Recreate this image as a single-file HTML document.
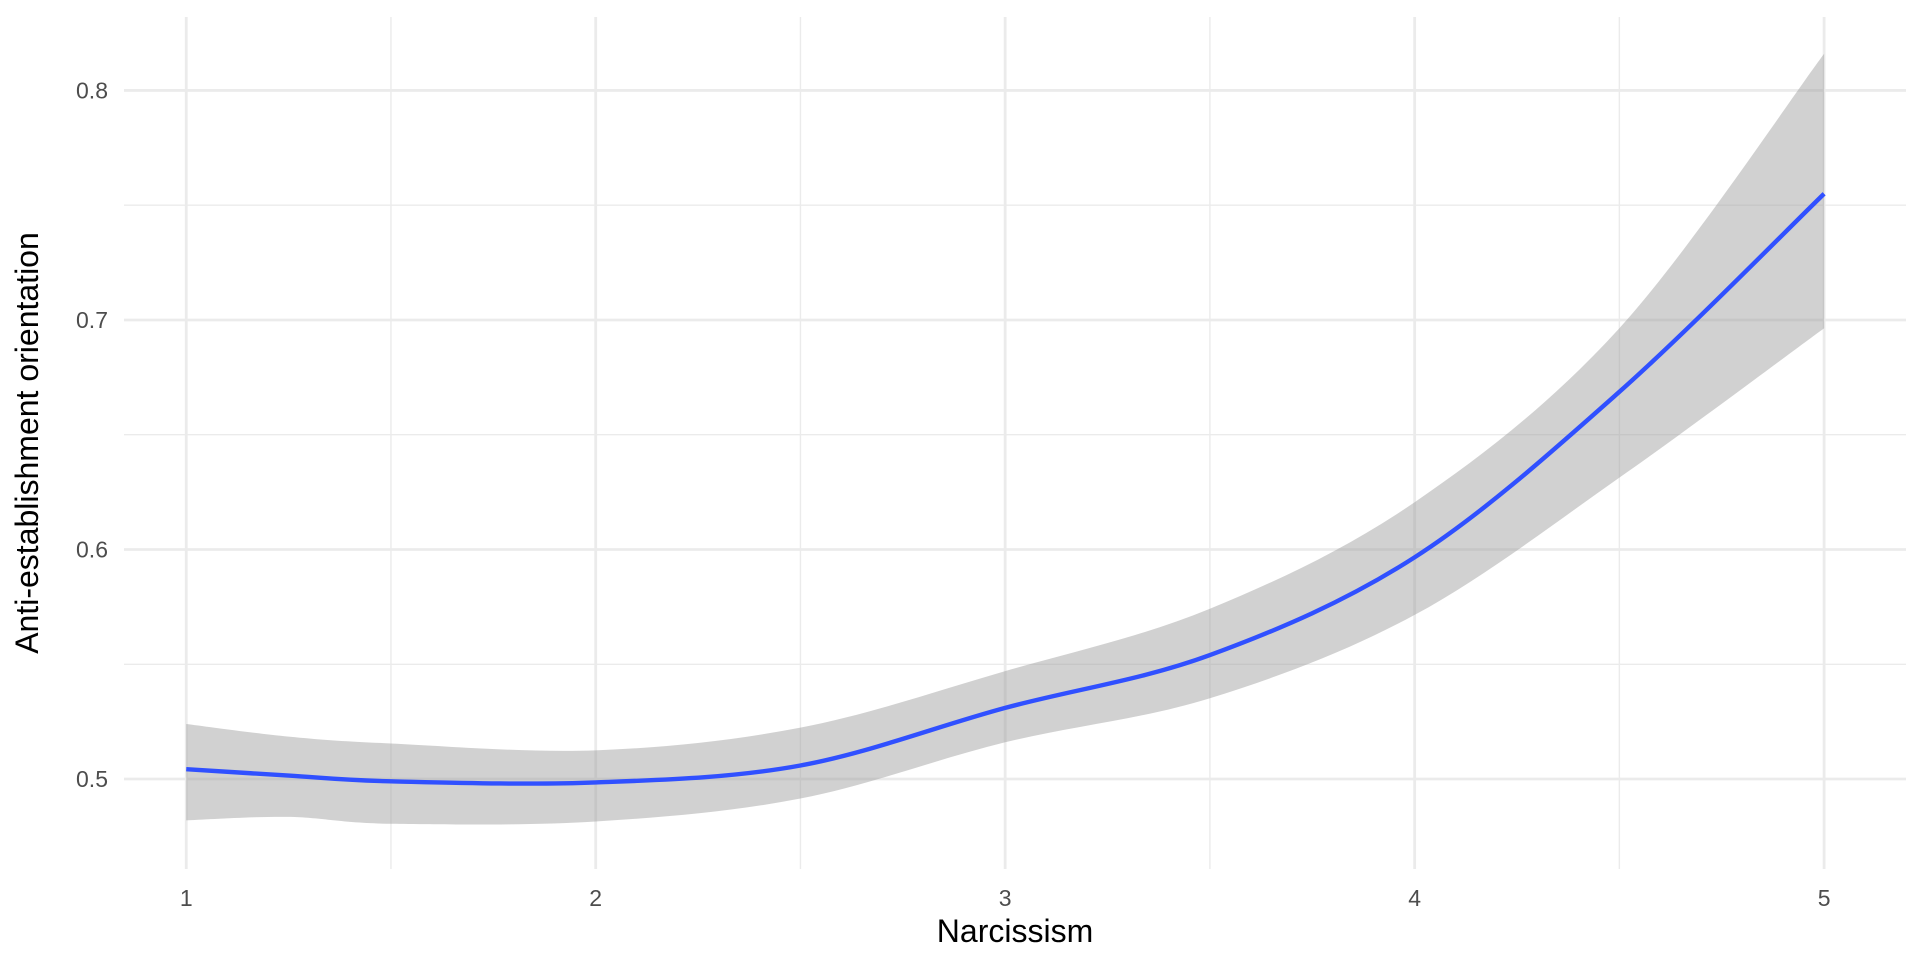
<!DOCTYPE html>
<html><head><meta charset="utf-8"><style>
html,body{margin:0;padding:0;background:#fff;}
svg{display:block;font-family:"Liberation Sans",sans-serif;}
</style></head><body>
<svg id="chart" width="1920" height="960"></svg>
<script>
const xVals=[1,1.25,1.5,2,2.5,3,3.5,4,4.5,5];
const fitVals=[0.5043,0.5015,0.4990,0.4985,0.5059,0.5310,0.5540,0.5966,0.6687,0.7550];
const upperVals=[0.5240,0.5185,0.5155,0.5125,0.5224,0.5470,0.5742,0.6206,0.6964,0.8160];
const lowerVals=[0.4820,0.4835,0.4805,0.4815,0.4915,0.5160,0.5352,0.5715,0.6313,0.6964];
const xTicks=[1,2,3,4,5];
const xMinor=[1.5,2.5,3.5,4.5];
const yTicks=[0.5,0.6,0.7,0.8];
const yMinor=[0.55,0.65,0.75];
const yTickLabels=["0.5","0.6","0.7","0.8"];

const NS="http://www.w3.org/2000/svg";
const svg=document.getElementById('chart');
const L=124,R=1906,T=17,B=869;
const X0=0.848,X1=5.2,Y0=0.4608,Y1=0.832;
const sx=v=>L+(v-X0)/(X1-X0)*(R-L);
const sy=v=>B-(v-Y0)/(Y1-Y0)*(B-T);
function mk(tag,attrs){const e=document.createElementNS(NS,tag);for(const k in attrs)e.setAttribute(k,attrs[k]);svg.appendChild(e);return e;}
function curve(xs,ys,move){
  const p=xs.map((x,i)=>[sx(x),sy(ys[i])]);
  let d=(move?"M":"L")+p[0][0]+","+p[0][1];
  for(let i=0;i<p.length-1;i++){
    const p0=p[Math.max(i-1,0)],p1=p[i],p2=p[i+1],p3=p[Math.min(i+2,p.length-1)];
    const c1=[p1[0]+(p2[0]-p0[0])/6,p1[1]+(p2[1]-p0[1])/6];
    const c2=[p2[0]-(p3[0]-p1[0])/6,p2[1]-(p3[1]-p1[1])/6];
    d+=" C"+c1+" "+c2+" "+p2;
  }
  return d;
}
yMinor.forEach(v=>{const e=mk('line',{x1:L,x2:R,y1:sy(v),y2:sy(v),stroke:'#ebebeb','stroke-width':1.4});

});
xMinor.forEach(v=>{const e=mk('line',{x1:sx(v),x2:sx(v),y1:T,y2:B,stroke:'#ebebeb','stroke-width':1.4});

});
yTicks.forEach((v,i)=>{const e=mk('line',{x1:L,x2:R,y1:sy(v),y2:sy(v),stroke:'#ebebeb','stroke-width':2.8});


const t=mk('text',{x:108,y:sy(v)+8,'text-anchor':'end','font-size':23,fill:'#4d4d4d'});t.textContent=yTickLabels[i];

});
xTicks.forEach(v=>{const e=mk('line',{x1:sx(v),x2:sx(v),y1:T,y2:B,stroke:'#ebebeb','stroke-width':2.8});


const t=mk('text',{x:sx(v),y:906,'text-anchor':'middle','font-size':23,fill:'#4d4d4d'});t.textContent=String(v);

});
const band=mk('path',{d:curve(xVals,upperVals,true)+" "+curve(xVals.slice().reverse(),lowerVals.slice().reverse(),false)+" Z",fill:'#999999','fill-opacity':0.45});


const line=mk('path',{d:curve(xVals,fitVals,true),fill:'none',stroke:'#3050FF','stroke-width':4.4});


const xt=mk('text',{x:(L+R)/2,y:942,'text-anchor':'middle','font-size':32,fill:'#000'});xt.textContent='Narcissism';


const yt=mk('text',{x:0,y:0,'text-anchor':'middle','font-size':32,fill:'#000',transform:'translate(38,443) rotate(-90)'});yt.textContent='Anti-establishment orientation';


</script>
</body></html>
